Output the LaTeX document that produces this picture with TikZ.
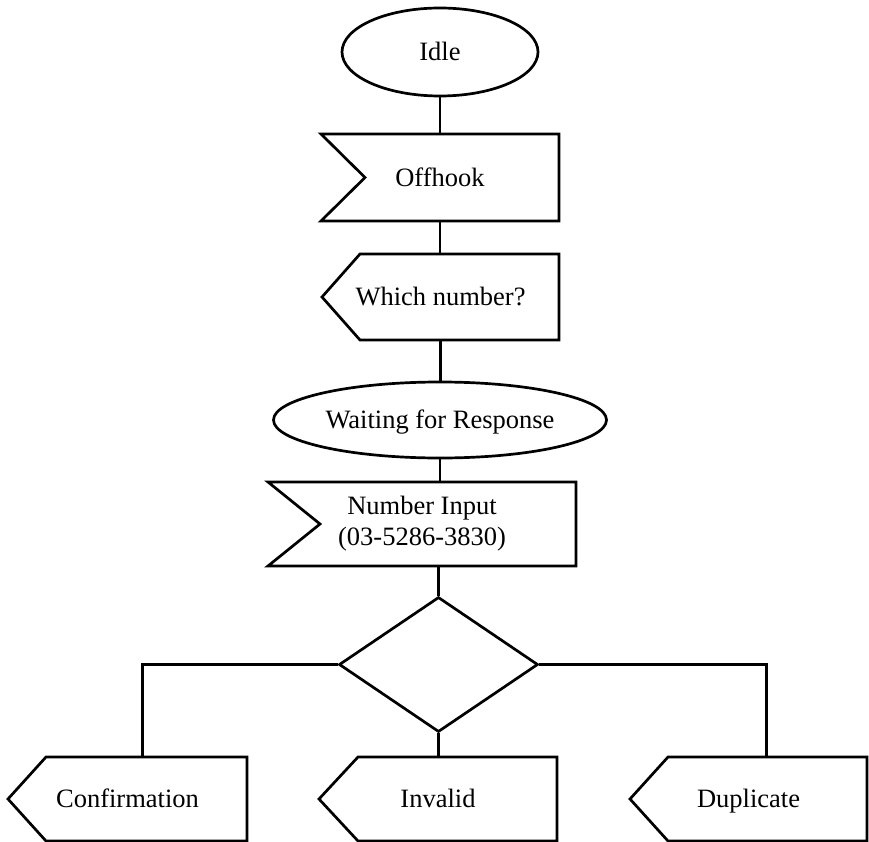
\documentclass[tikz,border=0pt]{standalone}
\usepackage{fontspec}
\setmainfont{Liberation Serif}
\usetikzlibrary{shapes.geometric,calc}
\begin{document}
\begin{tikzpicture}[x=1pt,y=-1pt,
  line width=2.7pt, line join=miter,
  base/.style={inner sep=0pt, font=\fontsize{26.5}{31}\selectfont, align=center,
    text height=20pt, text depth=2.5pt},
  oval/.style={base, ellipse, draw},
  box/.style={base, rectangle, outer sep=0pt},
  dia/.style={diamond, draw, inner sep=0pt}]
\useasboundingbox (0,0) rectangle (869,842);

% nodes
\node[oval, minimum width=196pt, minimum height=88pt] (idle) at (440,52) {Idle};
\node[box, minimum width=238pt, minimum height=87pt] (off) at (440,177.5) {Offhook};
\node[box, minimum width=237pt, minimum height=86pt] (which) at (440.5,297) {Which number?};
\node[oval, minimum width=333pt, minimum height=76pt] (wait) at (440,420) {Waiting for Response};
\node[box, minimum width=308pt, minimum height=84pt, text height={}, text depth={}] (numin) at (422,524) {Number Input\\(03-5286-3830)};
\node[dia, minimum width=199pt, minimum height=135pt] (dec) at (438.5,664.5) {};
\node[box, minimum width=239pt, minimum height=84pt] (conf) at (127.5,799) {Confirmation};
\node[box, minimum width=238pt, minimum height=84pt] (inval) at (438,799) {Invalid};
\node[box, minimum width=237pt, minimum height=84pt] (dup) at (748.5,799) {Duplicate};

% receive-signal outlines (notch on the left)
\draw (off.north west) -- (off.north east) -- (off.south east) -- (off.south west)
  -- ($(off.west)+(44,0)$) -- cycle;
\draw (numin.north west) -- (numin.north east) -- (numin.south east) -- (numin.south west)
  -- ($(numin.west)+(52,0)$) -- cycle;

% send-signal outlines (point on the left)
\draw (which.west) -- ($(which.north west)+(38,0)$) -- (which.north east)
  -- (which.south east) -- ($(which.south west)+(38,0)$) -- cycle;
\draw (conf.west) -- ($(conf.north west)+(38,0)$) -- (conf.north east)
  -- (conf.south east) -- ($(conf.south west)+(38,0)$) -- cycle;
\draw (inval.west) -- ($(inval.north west)+(39,0)$) -- (inval.north east)
  -- (inval.south east) -- ($(inval.south west)+(39,0)$) -- cycle;
\draw (dup.west) -- ($(dup.north west)+(38,0)$) -- (dup.north east)
  -- (dup.south east) -- ($(dup.south west)+(38,0)$) -- cycle;

% connectors
\draw (idle.south) -- (idle.south |- off.north);
\draw (off.south) -- (off.south |- which.north);
\draw (which.south) -- (which.south |- wait.north);
\draw (wait.south) -- (wait.south |- numin.north);
\draw (dec.north |- numin.south) -- (dec.north);
\draw (dec.west) -| ($(conf.north)+(15,0)$);
\draw (dec.south) -- (dec.south |- inval.north);
\draw (dec.east) -| ($(dup.north)+(18,0)$);
\end{tikzpicture}
\end{document}
